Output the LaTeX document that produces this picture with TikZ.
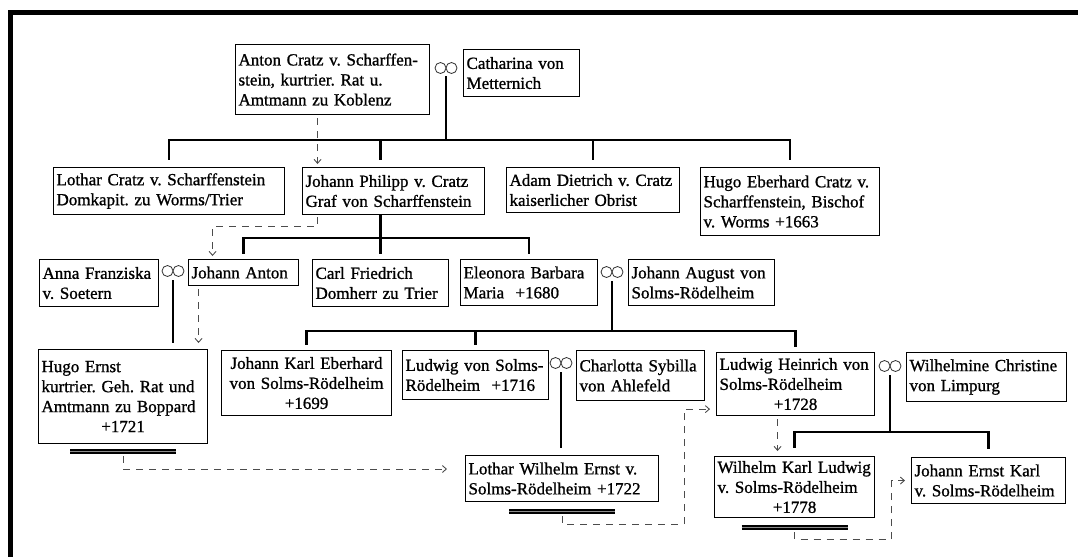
\documentclass[tikz,border=0pt]{standalone}
\usepackage{fontspec}
\setmainfont{Liberation Serif}[FakeBold=1]
\usetikzlibrary{arrows.meta,calc}
\begin{document}
\frenchspacing
\begin{tikzpicture}[x=1pt,y=-1pt,
  every node/.style={font=\fontsize{17}{20}\selectfont\frenchspacing},
  person/.style={draw=black,line width=1.1pt,anchor=north west,inner xsep=3pt,inner ysep=0pt,align=left},
  pcenter/.style={person,align=center},
  rel/.style={draw=black,line width=2.2pt},
  bus/.style={rel,line cap=rect},
  desc/.style={draw=black!70,line width=0.9pt,dash pattern=on 7pt off 6pt,
    -{Straight Barb[length=4pt,width=7pt,line width=0.9pt]}},
  marr/.style={inner sep=0pt,minimum width=22pt,minimum height=11pt},
  ring/.style={draw=black!80,line width=0.8pt},
  grave/.style={line width=1.8pt,double=black!45,double distance=1.2pt}]

\useasboundingbox (0,0) rectangle (1078,557);
\fill[white] (0,0) rectangle (1078,557);
% heavy frame along the top and the left side
\fill[black] (8,10) rectangle (1078,15);
\fill[black] (8,10) rectangle (13,557);

% ---- generation 1
\node[person,minimum width=194pt,minimum height=70pt,text width=188pt] (anton) at (235,44)
  {Anton Cratz v. Scharffen-\\stein, kurtrier. Rat u.\\Amtmann zu Koblenz};
\node[marr] (m1) at (446,68) {};
\node[person,minimum width=116pt,minimum height=47pt,text width=110pt] (cath) at (463,49)
  {Catharina von\\Metternich};

% ---- generation 2
\node[person,minimum width=231pt,minimum height=47pt,text width=225pt] (lothar) at (53,167)
  {Lothar Cratz v. Scharffenstein\\Domkapit. zu Worms/Trier};
\node[person,minimum width=182pt,minimum height=47pt,text width=176pt] (jphil) at (302,167)
  {Johann Philipp v. Cratz\\Graf von Scharffenstein};
\node[person,minimum width=173pt,minimum height=45pt,text width=167pt] (adam) at (506,167)
  {Adam Dietrich v. Cratz\\kaiserlicher Obrist};
\node[person,minimum width=179pt,minimum height=68pt,text width=173pt] (hugoeb) at (700,167)
  {Hugo Eberhard Cratz v.\\Scharffenstein, Bischof\\v. Worms +1663};

% ---- generation 3
\node[person,minimum width=119pt,minimum height=47pt,text width=113pt] (anna) at (39,259)
  {Anna Franziska\\v. Soetern};
\node[marr] (m2) at (173,271) {};
\node[person,minimum width=110pt,minimum height=26pt,text width=104pt] (janton) at (188,259)
  {Johann Anton};
\node[person,minimum width=136pt,minimum height=47pt,text width=130pt] (carl) at (312,259)
  {Carl Friedrich\\Domherr zu Trier};
\node[person,minimum width=137pt,minimum height=46pt,text width=131pt] (eleo) at (460,259)
  {Eleonora Barbara\\Maria\ \ +1680};
\node[marr] (m3) at (612,272) {};
\node[person,minimum width=146pt,minimum height=46pt,text width=140pt] (jaug) at (628,259)
  {Johann August von\\Solms-Rödelheim};

% ---- generation 4
\node[person,minimum width=169pt,minimum height=94pt,text width=163pt] (hernst) at (38,349)
  {Hugo Ernst\\kurtrier. Geh. Rat und\\Amtmann zu Boppard\\ \makebox[\hsize]{+1721}};
\node[pcenter,minimum width=170pt,minimum height=65pt,text width=164pt] (jke) at (221,350)
  {Johann Karl Eberhard\\von Solms-Rödelheim\\+1699};
\node[person,minimum width=146pt,minimum height=49pt,text width=140pt] (lvs) at (402,350)
  {Ludwig von Solms-\\Rödelheim\ \ +1716};
\node[marr] (m4) at (561,363) {};
\node[person,minimum width=128pt,minimum height=50pt,text width=122pt] (charl) at (576,350)
  {Charlotta Sybilla\\von Ahlefeld};
\node[person,minimum width=158pt,minimum height=63pt,text width=152pt] (lh) at (716,352)
  {Ludwig Heinrich von\\Solms-Rödelheim\\ \makebox[\hsize]{+1728}};
\node[marr] (m5) at (890,366) {};
\node[person,minimum width=160pt,minimum height=49pt,text width=154pt] (wilh) at (906,352)
  {Wilhelmine Christine\\von Limpurg};

% ---- generation 5
\node[person,minimum width=193pt,minimum height=46pt,text width=187pt] (lw) at (465,455)
  {Lothar Wilhelm Ernst v.\\Solms-Rödelheim +1722};
\node[person,minimum width=160pt,minimum height=61pt,text width=154pt] (wkl) at (714,456)
  {Wilhelm Karl Ludwig\\v. Solms-Rödelheim\\ \makebox[\hsize]{+1778}};
\node[person,minimum width=154pt,minimum height=46pt,text width=148pt] (jek) at (911,457)
  {Johann Ernst Karl\\v. Solms-Rödelheim};

% marriage signs
\foreach \m in {m1,m2,m3,m4,m5}
  \draw[ring] ($(\m)+(-5.5,0)$) ellipse[x radius=5.5pt,y radius=5.5pt]
              ($(\m)+(5.5,0)$) ellipse[x radius=5.5pt,y radius=5.5pt];

% descent lines: Anton x Catharina
\coordinate (b1) at ($(m1)+(0,72)$);
\draw[rel,shorten <=8pt] (m1.center) -- (b1);
\draw[bus] (lothar.north |- b1) -- (hugoeb.north |- b1);
\foreach \n in {lothar,adam,hugoeb}
  \draw[rel,shorten >=7pt] (\n.north |- b1) -- (\n.north);
\draw[rel,shorten >=7pt] (carl.north |- b1) -- (carl.north |- jphil.north);

% Johann Philipp's children
\coordinate (b2) at ($(jphil.south)+(0,23)$);
\draw[rel,shorten >=5pt] (carl.north |- jphil.south) -- (carl.north);
\draw[bus] (janton.north |- b2) -- (eleo.north |- b2);
\foreach \n in {janton,eleo}
  \draw[rel,shorten >=5pt] (\n.north |- b2) -- (\n.north);

% Anna Franziska x Johann Anton
\draw[rel,shorten <=9pt,shorten >=6pt] (m2.center) -- (m2.center |- hernst.north);

% Eleonora x Johann August
\coordinate (b3) at ($(m3)+(0,59)$);
\draw[rel,shorten <=9pt] (m3.center) -- (b3);
\draw[bus] (jke.north |- b3) -- (lh.north |- b3);
\foreach \n in {jke,lvs,lh}
  \draw[rel,shorten >=5pt] (\n.north |- b3) -- (\n.north);

% Ludwig x Charlotta
\draw[rel,shorten <=9pt,shorten >=7pt] (m4.center) -- (m4.center |- lw.north);

% Ludwig Heinrich x Wilhelmine
\coordinate (b4) at ($(m5)+(0,66)$);
\draw[rel,shorten <=9pt] (m5.center) -- (b4);
\draw[bus] (wkl.north |- b4) -- (jek.north |- b4);
\foreach \n in {wkl,jek}
  \draw[rel,shorten >=8pt] (\n.north |- b4) -- (\n.north);

% end-of-line marks
\coordinate (hernst-d) at ($(hernst.south)+(0,7)$);
\coordinate (lw-d) at ($(lw.south)+(0,9)$);
\coordinate (wkl-d) at ($(wkl.south)+(0,9)$);
\foreach \g in {hernst-d,lw-d,wkl-d}
  \draw[grave] ($(\g)+(-53,0)$) -- ($(\g)+(53,0)$);

% succession (dashed)
\coordinate (a-out) at ($(anton.south)+(-15,0)$);
\draw[desc,shorten <=3pt,shorten >=3pt] (a-out) -- (a-out |- jphil.north);
\coordinate (jp-out) at ($(jphil.south)+(-76,0)$);
\draw[desc,shorten <=2pt,shorten >=3pt] (jp-out) -- ++(0,11) -| ($(janton.north)+(-31,0)$);
\coordinate (ja-out) at ($(janton.south)+(-45,0)$);
\draw[desc,shorten <=3pt,shorten >=6pt] (ja-out) -- (ja-out |- hernst.north);
\draw[desc] ($(hernst-d)+(0,5)$) |- ($(lw.north west)+(-18,14)$);
\draw[desc] ($(lw-d)+(0,5)$) |- ++(122,8) |- ($(lh.south west)+(-6,-7)$);
\coordinate (lh-out) at ($(lh.south)+(-18,0)$);
\draw[desc,shorten <=3pt,shorten >=5pt] (lh-out) -- (lh-out |- wkl.north);
\draw[desc] ($(wkl-d)+(0,5)$) |- ++(97,7) |- ($(jek.west)+(-6,0)$);
\end{tikzpicture}
\end{document}
